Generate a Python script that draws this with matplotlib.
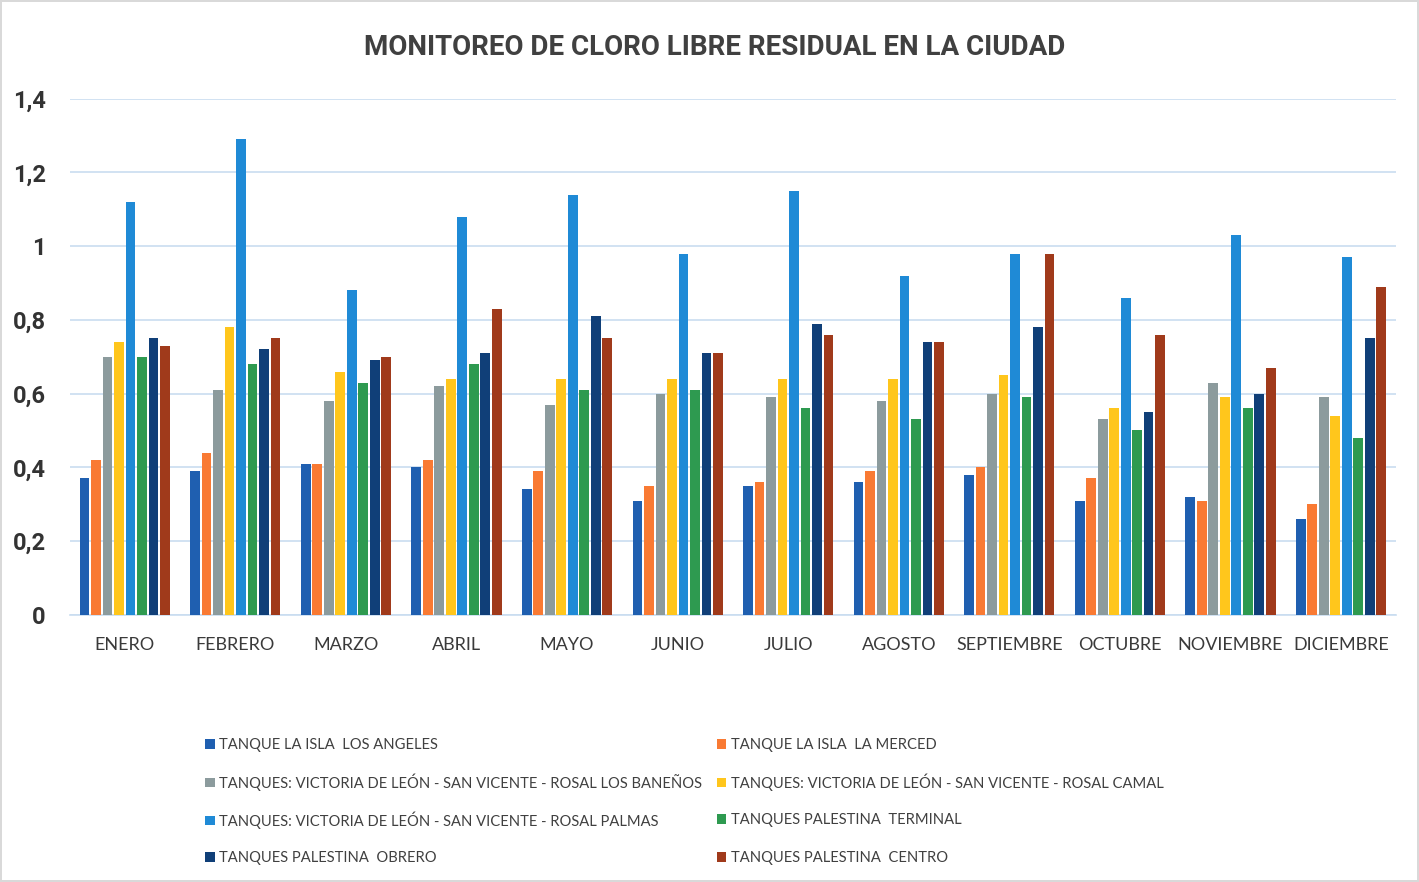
import matplotlib.pyplot as plt
import numpy as np

meses = ['ENERO', 'FEBRERO', 'MARZO', 'ABRIL', 'MAYO', 'JUNIO', 'JULIO', 'AGOSTO',
         'SEPTIEMBRE', 'OCTUBRE', 'NOVIEMBRE', 'DICIEMBRE']

series = [
    'TANQUE LA ISLA  LOS ANGELES',
    'TANQUE LA ISLA  LA MERCED',
    'TANQUES: VICTORIA DE LEÓN - SAN VICENTE - ROSAL LOS BANEÑOS',
    'TANQUES: VICTORIA DE LEÓN - SAN VICENTE - ROSAL CAMAL',
    'TANQUES: VICTORIA DE LEÓN - SAN VICENTE - ROSAL PALMAS',
    'TANQUES PALESTINA  TERMINAL',
    'TANQUES PALESTINA  OBRERO',
    'TANQUES PALESTINA  CENTRO',
]

# valores de cloro libre residual (mg/L) por tanque, enero..diciembre
los_angeles = [0.37, 0.39, 0.41, 0.40, 0.34, 0.31, 0.35, 0.36, 0.38, 0.31, 0.32, 0.26]
la_merced = [0.42, 0.44, 0.41, 0.42, 0.39, 0.35, 0.36, 0.39, 0.40, 0.37, 0.31, 0.30]
los_banenos = [0.70, 0.61, 0.58, 0.62, 0.57, 0.60, 0.59, 0.58, 0.60, 0.53, 0.63, 0.59]
camal = [0.74, 0.78, 0.66, 0.64, 0.64, 0.64, 0.64, 0.64, 0.65, 0.56, 0.59, 0.54]
palmas = [1.12, 1.29, 0.88, 1.08, 1.14, 0.98, 1.15, 0.92, 0.98, 0.86, 1.03, 0.97]
terminal = [0.70, 0.68, 0.63, 0.68, 0.61, 0.61, 0.56, 0.53, 0.59, 0.50, 0.56, 0.48]
obrero = [0.75, 0.72, 0.69, 0.71, 0.81, 0.71, 0.79, 0.74, 0.78, 0.55, 0.60, 0.75]
centro = [0.73, 0.75, 0.70, 0.83, 0.75, 0.71, 0.76, 0.74, 0.98, 0.76, 0.67, 0.89]

valores = [los_angeles, la_merced, los_banenos, camal, palmas, terminal, obrero, centro]
colores = ['#1F5FB0', '#F97A33', '#8C9B9D', '#FFC61C', '#1F8AD6', '#2E9A50', '#103F78', '#A03A1B']

fig = plt.figure(figsize=(14.19, 8.82), dpi=100)
fig.patch.set_edgecolor('#d9d9d9')
fig.patch.set_linewidth(1.5)
ax = fig.add_axes([0.049, 0.303, 0.935, 0.585])

x = np.arange(len(meses))
paso = 0.104
barras = []
for i, (vals, col) in enumerate(zip(valores, colores)):
    b = ax.bar(x + (i - 3.5) * paso, vals, width=0.088, color=col, label=series[i], zorder=3)
    barras.append(b)

ax.set_xlim(-0.5, 11.5)
ax.set_ylim(0, 1.4)
ax.set_yticks(np.arange(0, 1.41, 0.2))
ax.set_yticklabels(['0', '0,2', '0,4', '0,6', '0,8', '1', '1,2', '1,4'],
                   fontsize=17, fontweight='bold', color='#333333', family='Roboto')
ax.set_xticks(x)
ax.set_xticklabels(meses, fontsize=13, color='#3a3a3a', family='Lato')
ax.tick_params(axis='both', length=0)
ax.tick_params(axis='y', pad=17)
ax.tick_params(axis='x', pad=16)
ax.grid(axis='y', color='#c9ddf0', linewidth=1.2, zorder=0)
for s in ['top', 'right', 'left']:
    ax.spines[s].set_visible(False)
ax.spines['bottom'].set_color('#c9ddf0')
ax.spines['bottom'].set_linewidth(1.2)

fig.text(0.504, 0.946, 'MONITOREO DE CLORO LIBRE RESIDUAL EN LA CIUDAD', ha='center', va='center',
         fontsize=20, fontweight='bold', color='#404040', family='Roboto')

# leyenda en 2 columnas x 4 filas, una entrada por celda para que las filas queden alineadas
col_x = [0.1445, 0.505]
fila_y = [0.1553, 0.1134, 0.0703, 0.0272]
for i in range(len(series)):
    lg = fig.legend([barras[i]], [series[i]], loc='center left',
                    bbox_to_anchor=(col_x[i % 2], fila_y[i // 2]), frameon=False,
                    borderpad=0, borderaxespad=0,
                    handlelength=0.65, handleheight=0.65, handletextpad=0.3,
                    prop={'family': 'Lato', 'size': 10.6})
    lg.get_texts()[0].set_color('#404040')

fig.savefig('out.png', dpi=100)
